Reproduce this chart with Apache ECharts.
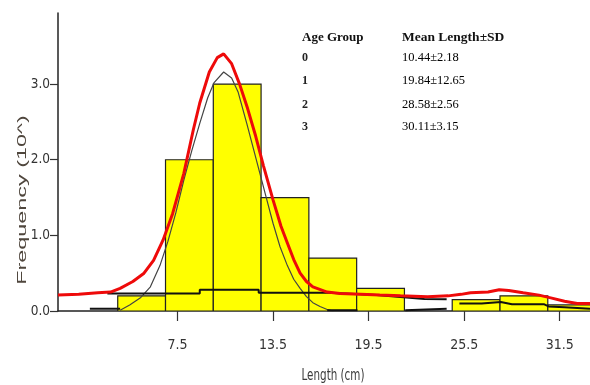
<!DOCTYPE html>
<html><head><meta charset="utf-8">
<script src="https://cdn.jsdelivr.net/npm/echarts@6/dist/echarts.min.js"></script>
<style>html,body{margin:0;padding:0;background:#fff}#c{width:590px;height:385px}</style>
</head><body><div id="c"></div>
<script>
// Histogram bins (start of each 3 cm bin) and frequencies (x10^)
const binStarts = [3.75, 6.75, 9.75, 12.75, 15.75, 18.75, 21.75, 24.75, 27.75, 30.75];
const binWidth = 3;
const frequencies = [0.2, 2.0, 3.0, 1.5, 0.7, 0.3, 0, 0.15, 0.2, 0.08];

const xTicks = [7.5, 13.5, 19.5, 25.5, 31.5];
const yTicks = [0, 1, 2, 3];

// Overall fitted curve (red)
const totalFit = [[0,0.21],[1.3,0.22],[2.5,0.24],[3.3,0.25],[3.9,0.3],[4.7,0.39],[5.4,0.5],[6.0,0.67],[6.6,0.94],[7.2,1.29],[7.9,1.82],[8.5,2.4],[8.9,2.75],[9.5,3.16],[10.0,3.35],[10.4,3.4],[10.9,3.27],[11.4,3.0],[11.9,2.68],[12.4,2.32],[12.9,1.92],[13.5,1.47],[14.0,1.12],[14.4,0.9],[14.8,0.68],[15.2,0.5],[15.6,0.39],[16.0,0.32],[16.9,0.25],[17.7,0.23],[19.0,0.22],[20.2,0.21],[21.5,0.2],[23.2,0.19],[24.5,0.2],[25.3,0.22],[25.9,0.24],[27.0,0.25],[27.7,0.28],[28.3,0.27],[29.2,0.24],[30.2,0.21],[31.0,0.17],[31.8,0.13],[32.6,0.1],[33.4,0.1]];

// Age group 0 component (thin gray)
const age0Fit = [[3.9,0.01],[4.5,0.08],[5.2,0.18],[5.8,0.32],[6.4,0.6],[6.9,0.92],[7.4,1.3],[7.9,1.73],[8.4,2.12],[8.9,2.48],[9.4,2.82],[9.8,3.02],[10.4,3.16],[10.9,3.08],[11.3,2.9],[11.85,2.48],[12.3,2.12],[12.7,1.8],[13.1,1.48],[13.5,1.16],[13.94,0.85],[14.4,0.6],[14.8,0.42],[15.2,0.3],[15.6,0.19],[16.0,0.11],[16.45,0.06],[16.9,0.02],[17.3,0.0]];

// Age group 1 component (thick black, stepped)
const age1Fit = [[3.1,0.23],[8.9,0.23],[8.9,0.28],[12.6,0.28],[12.6,0.24],[17.0,0.24],[20.0,0.21],[23.0,0.16],[24.4,0.155]];

// Age groups 2 and 3 and near-zero tails (thick black)
const tailLow1 = [[2.0,0.03],[3.9,0.03]];
const tailLow2 = [[16.9,0.01],[18.8,0.01]];
const tailLow3 = [[21.8,0.01],[24.4,0.03]];
const age23Fit = [[25.2,0.1],[26.6,0.1],[26.6,0.12],[27.8,0.12],[28.5,0.09],[30.5,0.09],[30.8,0.06],[31.8,0.05],[33.4,0.03]];

const legendHeader = ['Age Group', 'Mean Length\u00b1SD'];
const ageGroups = ['0', '1', '2', '3'];
const meanLengthSD = ['10.44\u00b12.18', '19.84\u00b112.65', '28.58\u00b12.56', '30.11\u00b13.15'];

const narrow = '"DejaVu Sans Condensed", "Liberation Sans", sans-serif';
const serif = '"Liberation Serif", "DejaVu Serif", serif';

const rowsY = [58, 81, 105, 127];
const graphics = [
  {type:'text', x:302, y:38, style:{text:legendHeader[0], font:'bold 13px ' + serif, fill:'#111', textVerticalAlign:'middle'}},
  {type:'text', x:402, y:38, style:{text:legendHeader[1], font:'bold 13.5px ' + serif, fill:'#111', textVerticalAlign:'middle'}},
  {type:'text', x:22, y:200, rotation:Math.PI/2, scaleX:1.8, style:{text:'Frequency (10^)', font:'13px "Liberation Sans", sans-serif', fill:'#4f463d', textAlign:'center', textVerticalAlign:'middle'}},
  {type:'text', x:333, y:376, scaleX:0.72, style:{text:'Length (cm)', font:'16px ' + narrow, fill:'#3a3a3a', textAlign:'center', textVerticalAlign:'middle'}}
];
ageGroups.forEach((g, i) => {
  graphics.push({type:'text', x:302, y:rowsY[i], style:{text:g, font:'bold 12px ' + serif, fill:'#222', textVerticalAlign:'middle'}});
  graphics.push({type:'text', x:402, y:rowsY[i], style:{text:meanLengthSD[i], font:'12.5px ' + serif, fill:'#000', textVerticalAlign:'middle'}});
});

const barData = binStarts.map((s, i) => [s, s + binWidth, frequencies[i]]);

function blackLine(data) {
  return {type:'line', data:data, symbol:'none', z:4, lineStyle:{color:'#111', width:2}, silent:true};
}

const chart = echarts.init(document.getElementById('c'), null, {renderer:'canvas'});
chart.setOption({
  animation:false,
  backgroundColor:'#fff',
  grid:{left:58, right:0, top:13, bottom:74},
  xAxis:{
    type:'value', min:0, max:33.4,
    axisLine:{show:true, lineStyle:{color:'#222', width:1.5}},
    axisTick:{show:true, length:10, customValues:xTicks, lineStyle:{color:'#333', width:1.2}},
    axisLabel:{customValues:xTicks, margin:27, fontSize:14, fontFamily:narrow, color:'#333', formatter:v => v.toFixed(1)},
    splitLine:{show:false}
  },
  yAxis:{
    type:'value', min:0, max:3.94,
    axisLine:{show:true, lineStyle:{color:'#222', width:1.5}},
    axisTick:{show:true, length:8, customValues:yTicks, lineStyle:{color:'#333', width:1.2}},
    axisLabel:{customValues:yTicks, margin:8, fontSize:13.5, fontFamily:narrow, color:'#333', formatter:v => v.toFixed(1)},
    splitLine:{show:false}
  },
  graphic:graphics,
  series:[
    {
      type:'custom', z:1, clip:true, silent:true,
      data:barData,
      encode:{x:[0,1], y:2},
      renderItem:function(params, api){
        const h = api.value(2);
        if (!h) return null;
        const p0 = api.coord([api.value(0), h]);
        const p1 = api.coord([api.value(1), 0]);
        return {type:'rect', shape:{x:p0[0], y:p0[1], width:p1[0]-p0[0], height:p1[1]-p0[1]},
                style:{fill:'#ffff00', stroke:'#222', lineWidth:1.2}};
      }
    },
    {type:'line', data:age0Fit, symbol:'none', z:3, silent:true, lineStyle:{color:'#444', width:1.2}},
    blackLine(age1Fit),
    blackLine(tailLow1),
    blackLine(tailLow2),
    blackLine(tailLow3),
    blackLine(age23Fit),
    {type:'line', data:totalFit, symbol:'none', z:5, silent:true, lineStyle:{color:'#ee0a0a', width:3}}
  ]
});
</script>
</body></html>
